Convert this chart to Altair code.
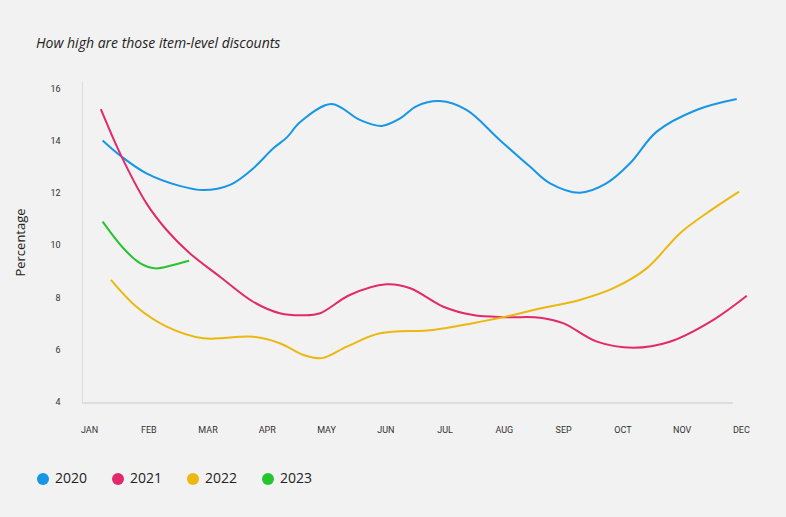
import altair as alt
import pandas as pd

months = ["JAN", "FEB", "MAR", "APR", "MAY", "JUN", "JUL", "AUG", "SEP", "OCT", "NOV", "DEC"]
years = ["2020", "2021", "2022", "2023"]
colors = ["#1696e5", "#e22a6a", "#ecb80f", "#26c42e"]

# x positions are fractional month indices (0 = JAN ... 11 = DEC)
x_2020 = [0.23, 0.55, 0.97, 1.53, 1.93, 2.38, 2.77, 3.11, 3.34, 3.56, 4.09, 4.57, 4.94, 5.25, 5.53,
          5.92, 6.37, 6.93, 7.44, 7.78, 8.28, 8.73, 9.13, 9.58, 10.25, 10.93]
y_2020 = [14.0, 13.38, 12.74, 12.26, 12.10, 12.30, 12.93, 13.70, 14.12, 14.70, 15.40, 14.79, 14.56, 14.85,
          15.32, 15.51, 15.17, 14.02, 13.0, 12.36, 12.0, 12.36, 13.13, 14.34, 15.17, 15.59]

x_2021 = [0.20, 0.55, 0.97, 1.31, 1.70, 2.21, 2.77, 3.22, 3.62, 3.90, 4.40, 5.02, 5.42, 5.98, 6.48,
          7.05, 7.61, 8.0, 8.57, 9.18, 9.80, 10.53, 11.10]
y_2021 = [15.2, 13.38, 11.59, 10.57, 9.68, 8.78, 7.82, 7.38, 7.30, 7.38, 8.08, 8.49, 8.34, 7.63, 7.31,
          7.23, 7.21, 7.0, 6.29, 6.06, 6.29, 7.12, 8.05]

x_2022 = [0.37, 0.80, 1.31, 1.93, 2.77, 3.22, 3.62, 3.93, 4.35, 4.91, 5.81, 6.48, 7.16, 7.61, 8.28,
          8.85, 9.41, 9.97, 10.42, 10.97]
y_2022 = [8.66, 7.63, 6.87, 6.42, 6.48, 6.23, 5.78, 5.66, 6.10, 6.61, 6.74, 7.0, 7.31, 7.56, 7.89,
          8.34, 9.10, 10.44, 11.21, 12.04]

x_2023 = [0.23, 0.58, 0.86, 1.11, 1.42, 1.69]
y_2023 = [10.89, 9.87, 9.30, 9.10, 9.23, 9.39]

rows = []
for yr, xs, ys in [("2020", x_2020, y_2020), ("2021", x_2021, y_2021),
                   ("2022", x_2022, y_2022), ("2023", x_2023, y_2023)]:
    for i, (xv, yv) in enumerate(zip(xs, ys)):
        rows.append({"year": yr, "m": xv, "v": yv, "order": i})
df = pd.DataFrame(rows)

W, H = 666, 322
month_expr = "['JAN','FEB','MAR','APR','MAY','JUN','JUL','AUG','SEP','OCT','NOV','DEC'][datum.value]"

x_enc = alt.X("m:Q", scale=alt.Scale(domain=[-0.118, 11.12], nice=False, zero=False),
              axis=alt.Axis(values=list(range(12)), labelExpr=month_expr, title=None, domain=False,
                            ticks=False, grid=False, labelFont="Roboto", labelFontSize=9,
                            labelColor="#333333", labelPadding=22))
y_enc = alt.Y("v:Q", scale=alt.Scale(domain=[3.94, 16.28], nice=False, zero=False),
              axis=alt.Axis(values=[4, 6, 8, 10, 12, 14, 16], title="Percentage", grid=False,
                            ticks=False, domainColor="#dddddd", labelFont="Roboto", labelFontSize=9,
                            labelColor="#333333", labelPadding=22, titleFont="Open Sans",
                            titleFontSize=13, titleFontWeight="normal", titleColor="#222222",
                            titlePadding=22))
color_scale = alt.Scale(domain=years, range=colors)

lines = alt.Chart(df).mark_line(interpolate="catmull-rom", strokeWidth=2).encode(
    x=x_enc, y=y_enc,
    color=alt.Color("year:N", scale=color_scale, legend=None),
    order="order:Q",
)

legend_layer = alt.Chart(df).transform_filter("datum.v < -100").mark_circle(opacity=1).encode(
    x="m:Q", y="v:Q",
    color=alt.Color("year:N", scale=color_scale,
                    legend=alt.Legend(title=None, orient="none", direction="horizontal",
                                      legendX=-46, legendY=391, symbolType="circle", symbolSize=144,
                                      symbolOpacity=1, labelFont="Open Sans", labelFontSize=14,
                                      labelColor="#222222", labelOffset=5, columnPadding=23)),
)

baseline = alt.Chart(df).mark_rule(color="#dddddd", strokeWidth=1).encode(
    x=alt.value(0), x2=alt.value(651), y=alt.value(H)
)

chart = alt.layer(baseline, lines, legend_layer).resolve_legend(color="independent").properties(
    width=W, height=H,
    autosize=alt.AutoSizeParams(type="none"),
    padding={"left": 82, "top": 81, "right": 38, "bottom": 114},
    background="#f2f2f2",
    title=alt.TitleParams("How high are those item-level discounts", anchor="start", frame="group",
                          dx=-46, offset=30, font="Open Sans", fontSize=14, fontStyle="italic",
                          fontWeight="normal", color="#222222"),
).configure_view(stroke=None)

chart.save("out.html", embed_options={"renderer": "svg", "actions": False})
